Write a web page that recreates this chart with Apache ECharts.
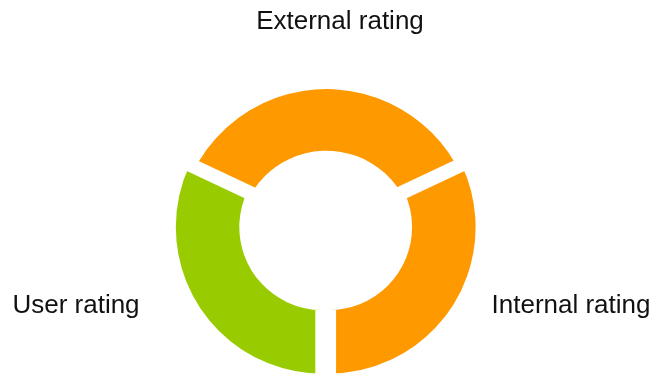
<!DOCTYPE html>
<html>
<head>
<meta charset="utf-8">
<script src="https://cdn.jsdelivr.net/npm/echarts@6/dist/echarts.min.js"></script>
<style>
html,body{margin:0;padding:0;background:#fff;}
#chart{width:655px;height:378px;}
</style>
</head>
<body>
<div id="chart"></div>
<script>
var categories = ['External rating', 'Internal rating', 'User rating'];
var values = [36, 32, 32];
var colors = ['#FF9900', '#FF9900', '#99CC00'];
var labelSpots = [[340, 22], [571, 306], [76, 306]];

var chart = echarts.init(document.getElementById('chart'), null, {renderer: 'canvas'});

function buildData(visibleIdx, border, withLabels, selected) {
  return categories.map(function (c, i) {
    var vis = visibleIdx.indexOf(i) >= 0;
    return {
      name: c,
      value: values[i],
      selected: selected && vis,
      itemStyle: vis
        ? {color: colors[i], borderColor: '#ffffff', borderWidth: border}
        : {color: 'rgba(0,0,0,0)', borderWidth: 0},
      label: {show: withLabels}
    };
  });
}

var common = {
  type: 'pie',
  startAngle: 154.8,
  clockwise: true,
  silent: true,
  emphasis: {disabled: true},
  label: {
    show: true,
    position: 'outside',
    formatter: '{b}',
    color: '#111',
    fontSize: 26,
    overflow: 'none',
    fontFamily: 'Liberation Sans, Arial, sans-serif'
  },
  labelLine: {show: false}
};

chart.setOption({
  animation: false,
  series: [
    Object.assign({}, common, {
      z: 2,
      selectedMode: false,
      center: [326.5, 237.7],
      radius: [87, 148.7],
      labelLayout: function (p) {
        var s = labelSpots[p.dataIndex];
        return {x: s[0], y: s[1], align: 'center', verticalAlign: 'middle'};
      },
      data: buildData([0], 0, true, false)
    }),
    Object.assign({}, common, {
      z: 3,
      selectedMode: 'multiple',
      selectedOffset: 4,
      center: [325.7, 224.9],
      radius: [76, 153.5],
      data: buildData([1, 2], 14, false, true)
    })
  ]
});
</script>
</body>
</html>
